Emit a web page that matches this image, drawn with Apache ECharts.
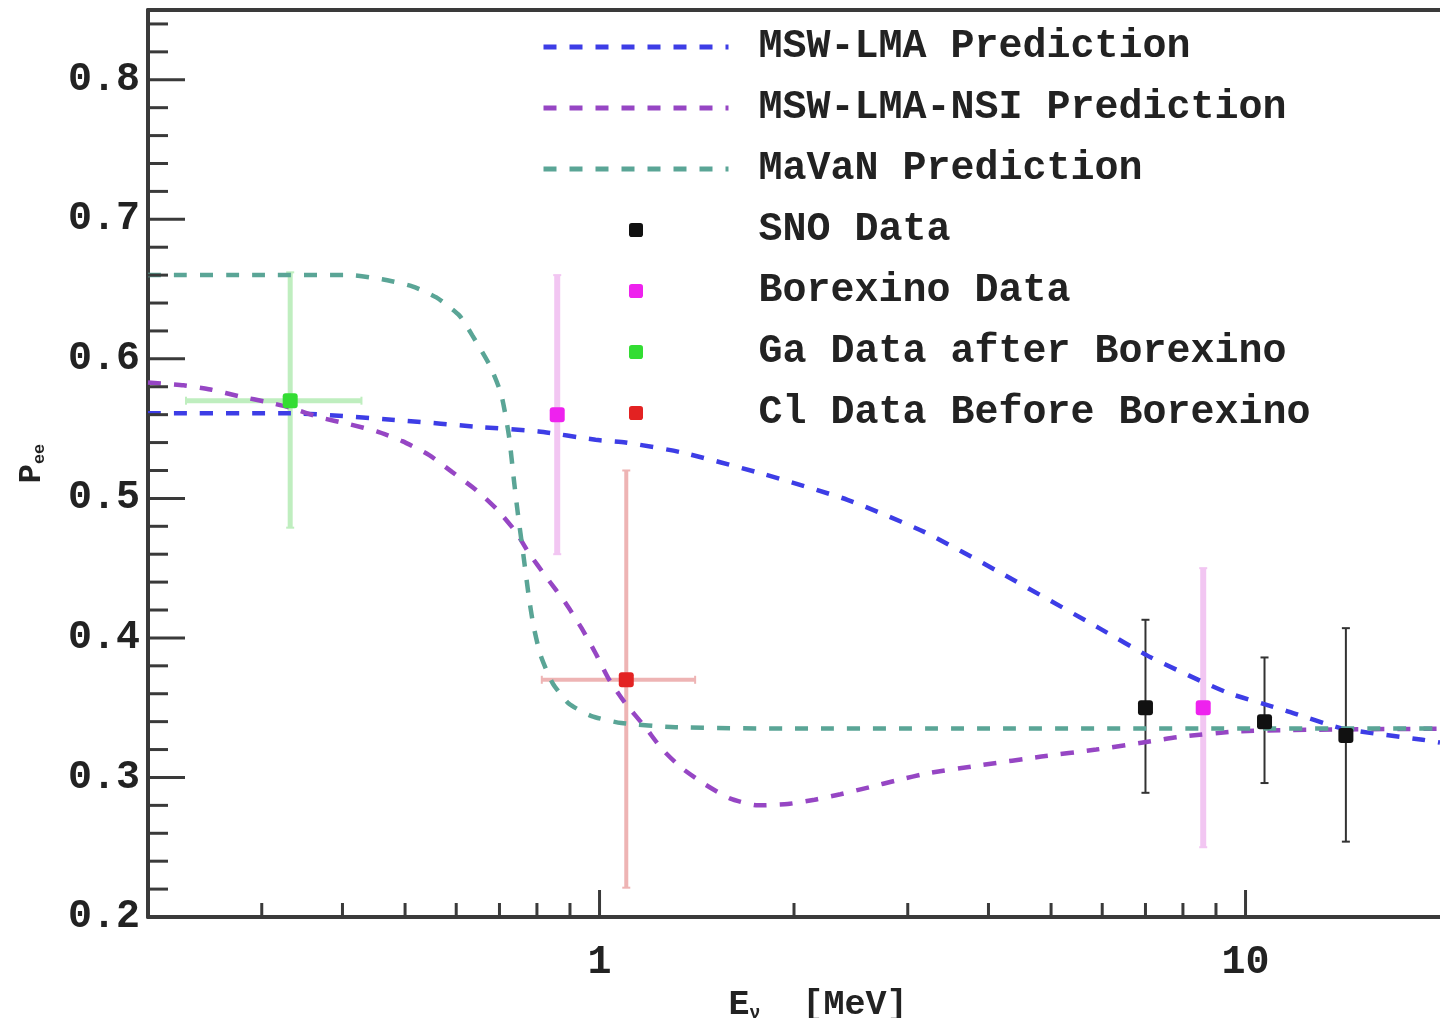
<!DOCTYPE html>
<html>
<head>
<meta charset="utf-8">
<script src="https://cdn.jsdelivr.net/npm/echarts@6/dist/echarts.min.js"></script>
<style>
html,body{margin:0;padding:0;background:#fff;}
#chart{width:1440px;height:1018px;}
</style>
</head>
<body>
<div id="chart"></div>
<script>
// ---------- data ----------
const X_MIN = 0.2, X_MAX = 20, Y_MIN = 0.2, Y_MAX = 0.85;

// prediction curves [E (MeV), Pee]
const mswLma = [[0.2,0.561],[0.332,0.561],[0.49,0.556],[0.658,0.551],[0.805,0.548],[0.986,0.542],[1.097,0.540],[1.338,0.533],[1.776,0.518],[2.419,0.499],[3.18,0.476],[4.163,0.447],[5.935,0.407],[7.14,0.386],[9.35,0.361],[11.53,0.348],[14.16,0.335],[18.8,0.327],[20,0.325]];
const mswLmaNsi = [[0.2,0.583],[0.227,0.581],[0.25,0.578],[0.278,0.573],[0.306,0.569],[0.332,0.565],[0.369,0.558],[0.411,0.553],[0.452,0.548],[0.495,0.541],[0.545,0.531],[0.591,0.519],[0.644,0.506],[0.694,0.492],[0.742,0.476],[0.777,0.461],[0.829,0.443],[0.886,0.425],[0.938,0.407],[0.986,0.389],[1.032,0.371],[1.097,0.353],[1.177,0.336],[1.246,0.321],[1.338,0.307],[1.457,0.295],[1.591,0.285],[1.758,0.280],[1.956,0.281],[2.152,0.284],[2.36,0.288],[2.616,0.293],[2.889,0.298],[3.225,0.303],[3.92,0.309],[4.832,0.315],[5.873,0.320],[7.14,0.326],[7.884,0.329],[9.685,0.333],[11.81,0.334],[20,0.335]];
const mavan = [[0.2,0.660],[0.3,0.660],[0.41,0.660],[0.461,0.657],[0.513,0.652],[0.559,0.644],[0.607,0.631],[0.635,0.617],[0.675,0.596],[0.704,0.575],[0.724,0.545],[0.737,0.513],[0.747,0.490],[0.762,0.460],[0.777,0.430],[0.79,0.409],[0.81,0.388],[0.845,0.368],[0.896,0.353],[0.972,0.344],[1.081,0.339],[1.31,0.336],[2,0.335],[20,0.335]];

// data points [E, Pee, Elo, Ehi, Plo, Phi]
const snoData = [[7.0,0.35,7.0,7.0,0.289,0.413],[10.7,0.34,10.7,10.7,0.296,0.386],[14.3,0.33,14.3,14.3,0.254,0.407]];
const borexinoData = [[0.86,0.56,0.86,0.86,0.46,0.66],[8.6,0.35,8.6,8.6,0.25,0.45]];
const gaData = [[0.332,0.57,0.229,0.428,0.479,0.662]];
const clData = [[1.10,0.37,0.814,1.406,0.221,0.52]];

// axis ticks
const xMajorTicks = [1, 10];
const xMinorTicks = [0.3,0.4,0.5,0.6,0.7,0.8,0.9,2,3,4,5,6,7,8,9];
const xTickLabels = ['1','10'];
const yMajorTicks = [0.3,0.4,0.5,0.6,0.7,0.8];
const yMinorTicks = [0.22,0.24,0.26,0.28,0.32,0.34,0.36,0.38,0.42,0.44,0.46,0.48,0.52,0.54,0.56,0.58,0.62,0.64,0.66,0.68,0.72,0.74,0.76,0.78,0.82,0.84];

// ---------- chart ----------
const FONT = '"Liberation Mono", "DejaVu Sans Mono", monospace';
const AXIS_COLOR = '#3a3a3a';
const SQUARE = 'path://M2,0H8Q10,0 10,2V8Q10,10 8,10H2Q0,10 0,8V2Q0,0 2,0Z';
const chart = echarts.init(document.getElementById('chart'));

function errSeries(name, data, color, width) {
  return {
    name: name + ' err', type: 'custom', z: 1, silent: true,
    encode: {x: 0, y: 1},
    data: data,
    renderItem: function (params, api) {
      const x = api.value(0), y = api.value(1);
      const xlo = api.value(2), xhi = api.value(3), ylo = api.value(4), yhi = api.value(5);
      const top = api.coord([x, yhi]), bot = api.coord([x, ylo]);
      const st = {stroke: color, lineWidth: width};
      const ch = [
        {type: 'line', shape: {x1: top[0], y1: top[1], x2: bot[0], y2: bot[1]}, style: st},
        {type: 'line', shape: {x1: top[0]-4, y1: top[1], x2: top[0]+4, y2: top[1]}, style: {stroke: color, lineWidth: 2}},
        {type: 'line', shape: {x1: bot[0]-4, y1: bot[1], x2: bot[0]+4, y2: bot[1]}, style: {stroke: color, lineWidth: 2}}
      ];
      if (xhi > xlo) {
        const l = api.coord([xlo, y]), r = api.coord([xhi, y]);
        ch.push({type: 'line', shape: {x1: l[0], y1: l[1], x2: r[0], y2: r[1]}, style: st});
        ch.push({type: 'line', shape: {x1: l[0], y1: l[1]-4, x2: l[0], y2: l[1]+4}, style: {stroke: color, lineWidth: 2}});
        ch.push({type: 'line', shape: {x1: r[0], y1: r[1]-4, x2: r[0], y2: r[1]+4}, style: {stroke: color, lineWidth: 2}});
      }
      return {type: 'group', children: ch};
    }
  };
}

function lineSeries(name, data, color) {
  return {
    name: name, type: 'line', data: data, z: 2, symbol: 'none', showSymbol: false, smooth: 0.2,
    lineStyle: {color: color, width: 4.5, type: [13, 13]},
    itemStyle: {color: color}
  };
}

function pointSeries(name, data, color) {
  return {
    name: name, type: 'scatter', z: 3, symbol: SQUARE, symbolSize: 15,
    data: data.map(d => [d[0], d[1]]),
    itemStyle: {color: color, opacity: 1}
  };
}

const tickData = []
  .concat(xMajorTicks.map(v => [v, Y_MIN, 0, 1]))
  .concat(xMinorTicks.map(v => [v, Y_MIN, 0, 0]))
  .concat(yMajorTicks.map(v => [X_MIN, v, 1, 1]))
  .concat(yMinorTicks.map(v => [X_MIN, v, 1, 0]));

const tickSeries = {
  name: 'ticks', type: 'custom', z: 4, silent: true, clip: false,
  encode: {x: 0, y: 1},
  data: tickData,
  renderItem: function (params, api) {
    const p = api.coord([api.value(0), api.value(1)]);
    const isY = api.value(2) === 1, major = api.value(3) === 1;
    const st = {stroke: AXIS_COLOR, lineWidth: 3};
    if (isY) {
      const len = major ? 37 : 20;
      return {type: 'line', shape: {x1: p[0], y1: p[1], x2: p[0] + len, y2: p[1]}, style: st};
    }
    const len = major ? 27 : 14;
    return {type: 'line', shape: {x1: p[0], y1: p[1], x2: p[0], y2: p[1] - len}, style: st};
  }
};

const baseXAxis = {
  type: 'log', logBase: 10, min: X_MIN, max: X_MAX,
  splitLine: {show: false}, axisTick: {show: false}, minorTick: {show: false},
  axisLine: {show: true, onZero: false, lineStyle: {color: AXIS_COLOR, width: 4}}
};

const hiddenSym = {color: 'rgba(0,0,0,0)', borderWidth: 0, opacity: 0};

const option = {
  backgroundColor: '#ffffff',
  animation: false,
  grid: {left: 148, right: 0, top: 10, bottom: 101, containLabel: false, outerBoundsMode: 'none'},
  legend: {
    orient: 'vertical', left: 536, top: 22,
    itemWidth: 185, itemHeight: 14, itemGap: 21, symbolKeepAspect: true,
    textStyle: {fontFamily: FONT, fontWeight: 'bold', fontSize: 40, lineHeight: 40, color: '#222', padding: [0, 0, 0, 25]},
    data: [
      {name: 'MSW-LMA Prediction', itemStyle: hiddenSym, lineStyle: {width: 5}},
      {name: 'MSW-LMA-NSI Prediction', itemStyle: hiddenSym, lineStyle: {width: 5}},
      {name: 'MaVaN Prediction', itemStyle: hiddenSym, lineStyle: {width: 5}},
      {name: 'SNO Data', icon: SQUARE},
      {name: 'Borexino Data', icon: SQUARE},
      {name: 'Ga Data after Borexino', icon: SQUARE},
      {name: 'Cl Data Before Borexino', icon: SQUARE}
    ]
  },
  xAxis: [
    Object.assign({}, baseXAxis, {
      position: 'bottom',
      name: '{e|E}{s|ν}{e|  [MeV]}', nameLocation: 'middle', nameGap: 57,
      nameTextStyle: {
        padding: [0, 0, 0, 48],
        rich: {
          e: {fontFamily: FONT, fontWeight: 'bold', fontSize: 35, color: '#222'},
          s: {fontFamily: FONT, fontWeight: 'bold', fontSize: 18, color: '#222', verticalAlign: 'bottom', padding: [14, 0, 0, 0]}
        }
      },
      axisLabel: {
        show: true, margin: 26, fontFamily: FONT, fontWeight: 'bold', fontSize: 40, color: '#222',
        showMinLabel: false, showMaxLabel: false,
        formatter: function (v) {
          const i = xMajorTicks.findIndex(t => Math.abs(t - v) < 1e-9);
          return i >= 0 ? xTickLabels[i] : '';
        }
      }
    }),
    Object.assign({}, baseXAxis, {position: 'top', axisLabel: {show: false}})
  ],
  yAxis: {
    type: 'value', min: Y_MIN, max: Y_MAX, interval: 0.1,
    splitLine: {show: false}, axisTick: {show: false}, minorTick: {show: false},
    axisLine: {show: true, onZero: false, lineStyle: {color: AXIS_COLOR, width: 4}},
    axisLabel: {
      margin: 8, fontFamily: FONT, fontWeight: 'bold', fontSize: 40, color: '#222',
      formatter: function (v) { return v > 0.81 ? '' : v.toFixed(1); }
    },
    name: '{p|P}{s|ee}', nameLocation: 'middle', nameGap: 100,
    nameTextStyle: {
      rich: {
        p: {fontFamily: FONT, fontWeight: 'bold', fontSize: 32, color: '#222'},
        s: {fontFamily: FONT, fontWeight: 'bold', fontSize: 17, color: '#222', verticalAlign: 'bottom', padding: [12, 0, 0, 0]}
      }
    }
  },
  series: [
    errSeries('Ga', gaData, '#bfeebf', 5),
    errSeries('Borexino', borexinoData, '#f2c6f2', 6),
    errSeries('Cl', clData, '#eeb4b4', 4),
    errSeries('SNO', snoData, '#333333', 2),
    lineSeries('MSW-LMA Prediction', mswLma, '#3d3de6'),
    lineSeries('MSW-LMA-NSI Prediction', mswLmaNsi, '#9646c4'),
    lineSeries('MaVaN Prediction', mavan, '#5aa596'),
    pointSeries('SNO Data', snoData, '#111111'),
    pointSeries('Borexino Data', borexinoData, '#ee22ee'),
    pointSeries('Ga Data after Borexino', gaData, '#33dd33'),
    pointSeries('Cl Data Before Borexino', clData, '#e32222'),
    tickSeries
  ]
};
chart.setOption(option);
</script>
</body>
</html>
